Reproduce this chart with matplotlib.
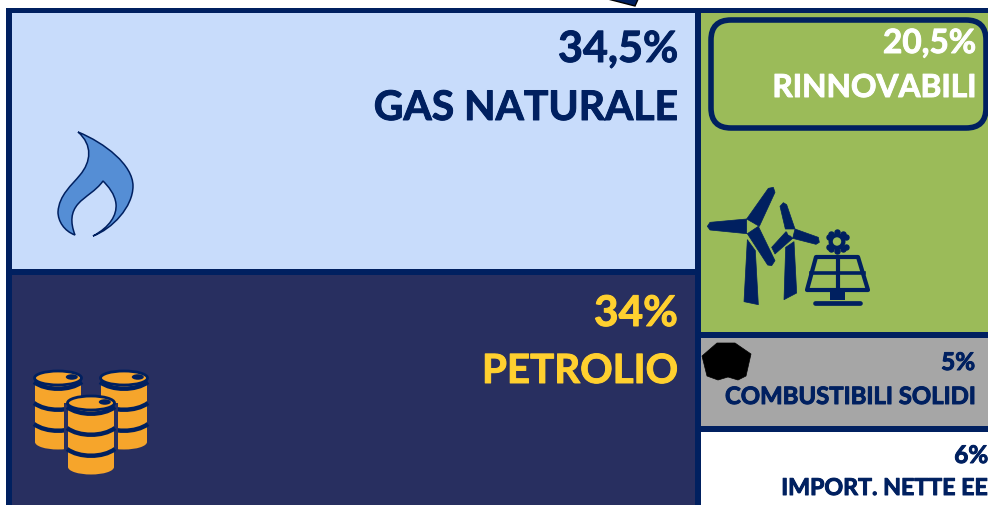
import matplotlib
matplotlib.use("Agg")
import matplotlib.pyplot as plt
import matplotlib.patheffects as pe
from matplotlib.patches import Rectangle, Polygon, PathPatch, FancyBboxPatch, Ellipse, Circle
from matplotlib.path import Path

plt.rcParams['font.family'] = ['Lato', 'DejaVu Sans']

# ---------------------------
# Data
# ---------------------------
shares = ["34,5%", "34%", "20,5%", "5%", "6%"]
sources = ["GAS NATURALE", "PETROLIO", "RINNOVABILI", "COMBUSTIBILI SOLIDI", "IMPORT. NETTE EE"]

# ---------------------------
# Layout (pixels of the picture)
# ---------------------------
tile_x = [12, 12, 701, 701, 701]
tile_y = [14, 276, 14, 339, 433]
tile_w = [683, 683, 290, 290, 290]
tile_h = [256, 240, 319, 88, 80]
tile_col = ["#C8DCFB", "#282F60", "#9BBB59", "#A6A6A6", "#FFFFFF"]
text_col = ["#002060", "#FFD02F", "#FFFFFF", "#002060", "#002060"]
text_right = [678, 678, 976, 975, 988]
share_y = [63, 327, 54, 371, 464]
name_y = [121, 384, 98, 405, 496]
share_size = [31, 30.5, 24, 17.5, 17.5]
name_size = [29.4, 29, 22.8, 17.2, 16.7]

NAVY = "#002060"
ORANGE = "#F6A52B"
GREEN = "#9BBB59"

fig = plt.figure(figsize=(9.88, 5.06), dpi=100)
ax = fig.add_axes([0, 0, 1, 1])
ax.set_xlim(0, 988)
ax.set_ylim(506, 0)
ax.axis("off")

# frame behind the tiles
ax.add_patch(Rectangle((6, 9), 990, 500, fc=NAVY, ec="none", zorder=0))

for x, y, w, h, c in zip(tile_x, tile_y, tile_w, tile_h, tile_col):
    ax.add_patch(Rectangle((x, y), w, h, fc=c, ec="none", zorder=1))

# bit of arrow cut by the top edge
ax.add_patch(Polygon([(600, -2), (635, 7), (639, -2)], fc=NAVY, ec="black", lw=1, zorder=2))

# rounded box on the renewables tile
ax.add_patch(FancyBboxPatch((731, 41), 235, 68, boxstyle="round,pad=20,rounding_size=20",
                            fc="none", ec=NAVY, lw=4, zorder=2))

# ---------------------------
# Flame icon
# ---------------------------
flame = [(78, 133),
         (105, 144), (133, 166), (133, 187),
         (133, 208), (112, 230), (93, 237),
         (110, 228), (117, 216), (116, 205),
         (115, 195), (108, 187), (103, 182),
         (96, 192), (85, 197), (78, 205),
         (71, 213), (70, 223), (75, 236),
         (64, 232), (58, 222), (58, 213),
         (59, 196), (72, 186), (80, 176),
         (91, 163), (93, 146), (78, 133)]
flame_codes = [Path.MOVETO] + [Path.CURVE4] * (len(flame) - 1)
ax.add_patch(PathPatch(Path(flame, flame_codes), fc="#558ED5", ec=NAVY, lw=1.1, zorder=3))


# ---------------------------
# Barrels icon
# ---------------------------
def arc(cx, half_w, y, z, lw):
    ax.add_patch(PathPatch(Path([(cx - half_w, y), (cx - half_w / 2, y + 9), (cx + half_w / 2, y + 9), (cx + half_w, y)],
                                [Path.MOVETO, Path.CURVE4, Path.CURVE4, Path.CURVE4]),
                           fc="none", ec=NAVY, lw=lw, zorder=z))


def barrel(cx, top, half_w, bottom, z):
    # dark halo so the barrels stay apart
    ax.add_patch(Rectangle((cx - half_w - 4, top), 2 * half_w + 8, bottom - top - 5,
                           fc="#282F60", ec="none", zorder=z))
    ax.add_patch(Ellipse((cx, bottom - 7), 2 * half_w, 15, fc=ORANGE, ec="none", zorder=z))
    ax.add_patch(Rectangle((cx - half_w, top), 2 * half_w, bottom - top - 7, fc=ORANGE, ec="none", zorder=z))
    for off in [4, 25, 46]:
        arc(cx, half_w + 1, top + off, z, 3.2)
    ax.add_patch(Ellipse((cx, top), 2 * half_w + 1, 14, fc=ORANGE, ec=NAVY, lw=2, zorder=z))
    ax.add_patch(Ellipse((cx + half_w * 0.6, top - 1), 12, 5.5, fc=NAVY, ec="none", zorder=z))


barrel(58, 379, 23, 450, 3)
barrel(124, 379, 23, 450, 3)
barrel(91, 404, 23, 475, 4)


# ---------------------------
# Wind + solar icon (outlined on a 3x crop of the right tile)
# ---------------------------
def crop(pts):
    return [(690 + x / 3, 170 + y / 3) for x, y in pts]


blades = [[(170, 150), (235, 58), (250, 55), (255, 70), (208, 172)],
          [(170, 150), (60, 160), (52, 172), (60, 183), (170, 194)],
          [(205, 172), (255, 275), (245, 290), (233, 288), (172, 194)],
          [(286, 180), (270, 112), (280, 101), (290, 107), (315, 180)],
          [(315, 180), (385, 205), (388, 220), (378, 226), (308, 208)],
          [(288, 188), (245, 235), (255, 255), (308, 208)]]
towers = [[(172, 212), (162, 398), (205, 407), (196, 245)],
          [(287, 235), (312, 218), (320, 372), (282, 392)]]
for p in blades + towers:
    ax.add_patch(Polygon(crop(p), fc=NAVY, ec=NAVY, lw=0.5, joinstyle="round", zorder=3))
ax.add_patch(Circle((751, 227), 3.2, fc=GREEN, ec="none", zorder=4))
ax.add_patch(Circle((790, 234), 2.4, fc=GREEN, ec="none", zorder=4))

# solar panel
ax.add_patch(Polygon([(816, 258), (858, 258), (868, 291), (807, 291)], fc="none", ec=NAVY, lw=3,
                     joinstyle="round", zorder=3))
ax.plot([811, 864], [273.5, 273.5], color=NAVY, lw=2.6, zorder=3)
ax.plot([837.5, 837.5], [258, 291], color=NAVY, lw=3, zorder=3)
ax.add_patch(Rectangle((830, 291), 15, 10, fc=NAVY, ec="none", zorder=3))
ax.plot([815, 860], [303.5, 303.5], color=NAVY, lw=3.4, solid_capstyle="round", zorder=3)

# sun gear: disc with bumps and a hole
ax.add_patch(Circle((837, 242.5), 8.5, fc=NAVY, ec="none", zorder=3))
ax.plot([837, 845.5, 845.5, 837, 828.5, 828.5, 843, 831, 843, 831],
        [233, 237.5, 247.5, 252, 247.5, 237.5, 235, 235, 250, 250],
        ls="none", marker="o", ms=3.6, color=NAVY, zorder=3)
ax.add_patch(Circle((837, 242.5), 4.2, fc=GREEN, ec="none", zorder=4))

# coal lump
ax.add_patch(Polygon([(702, 357), (717, 344), (735, 344), (751, 355), (746, 377), (738, 381),
                      (728, 378), (718, 381), (707, 377)], fc="black", ec="black", lw=0.5,
                     joinstyle="round", zorder=3))

# ---------------------------
# Labels
# ---------------------------
for i in range(len(sources)):
    heavier = [pe.withStroke(linewidth=0.7, foreground=text_col[i])]
    ax.text(text_right[i], share_y[i], shares[i], ha="right", va="baseline", color=text_col[i],
            fontsize=share_size[i], fontweight="bold", zorder=5, path_effects=heavier)
    ax.text(text_right[i], name_y[i], sources[i], ha="right", va="baseline", color=text_col[i],
            fontsize=name_size[i], fontweight="bold", zorder=5, path_effects=heavier)

fig.savefig("out.png", dpi=100)
